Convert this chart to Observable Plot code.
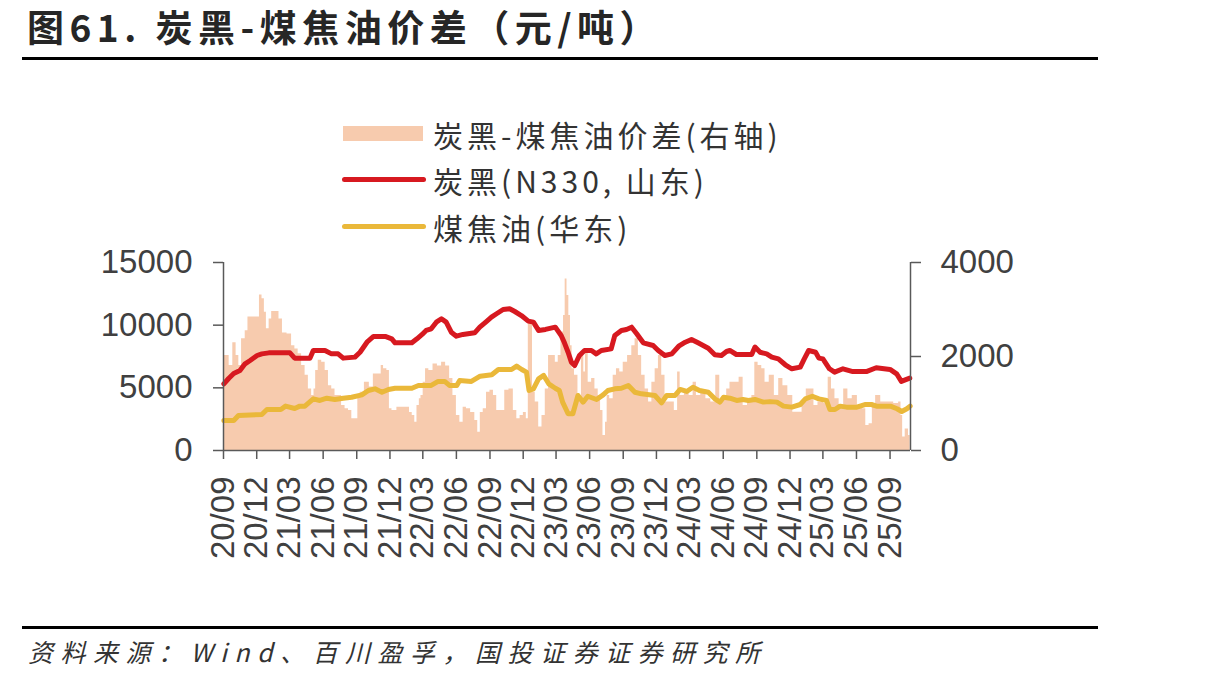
<!DOCTYPE html>
<html><head><meta charset="utf-8">
<script src="https://cdn.jsdelivr.net/npm/d3@7"></script>
<script src="https://cdn.jsdelivr.net/npm/@observablehq/plot@0.6"></script>
<style>
body{margin:0;background:#fff;width:1213px;height:681px;position:relative;overflow:hidden;font-family:"Noto Sans CJK SC",sans-serif;}
#title{position:absolute;left:27px;top:5px;font-size:37px;line-height:42px;font-weight:700;color:#262626;letter-spacing:5.5px;white-space:nowrap;}
.hr{position:absolute;left:22px;width:1076px;height:3px;background:#000;}
.lg{position:absolute;left:433px;font-size:30px;line-height:30px;color:#333;letter-spacing:4px;white-space:nowrap;}
.sw{position:absolute;}
#chart{position:absolute;left:0;top:240px;}
#source{position:absolute;left:28px;top:637px;font-size:25px;line-height:28px;font-style:italic;color:#333;letter-spacing:7.5px;white-space:nowrap;}
</style></head>
<body>
<div id="title">图61. 炭黑-煤焦油价差（元/吨）</div>
<div class="hr" style="top:57px"></div>
<div class="sw" style="left:343px;top:126px;width:80px;height:15px;background:#f7cbae"></div>
<div class="lg" style="top:119px">炭黑-煤焦油价差(右轴)</div>
<div class="sw" style="left:342px;top:177px;width:84px;height:5px;border-radius:3px;background:#d71920"></div>
<div class="lg" style="top:165px">炭黑(N330, 山东)</div>
<div class="sw" style="left:342px;top:224px;width:84px;height:5px;border-radius:3px;background:#eab83a"></div>
<div class="lg" style="top:212px">煤焦油(华东)</div>
<div id="chart"></div>
<div class="hr" style="top:626px"></div>
<div id="source">资料来源：Wind、百川盈孚，国投证券证券研究所</div>
<script>
// 炭黑(N330, 山东) 元/吨 — left axis
const cbDates = ["2020-09-02","2020-09-15","2020-09-29","2020-10-16","2020-10-30","2020-11-13","2020-12-02","2020-12-15","2021-01-03","2021-03-02","2021-03-15","2021-04-26","2021-05-05","2021-06-06","2021-06-24","2021-07-12","2021-07-26","2021-08-27","2021-09-10","2021-09-29","2021-10-17","2021-11-09","2021-11-18","2021-12-06","2021-12-15","2022-01-30","2022-02-13","2022-02-27","2022-03-10","2022-03-24","2022-04-07","2022-04-21","2022-05-04","2022-05-18","2022-06-01","2022-06-19","2022-07-21","2022-08-04","2022-08-22","2022-09-05","2022-09-19","2022-10-07","2022-10-25","2022-11-08","2022-11-26","2022-12-15","2022-12-29","2023-01-12","2023-01-31","2023-02-27","2023-03-15","2023-03-24","2023-04-03","2023-04-12","2023-04-21","2023-05-04","2023-05-18","2023-06-06","2023-06-19","2023-07-03","2023-07-30","2023-08-09","2023-08-27","2023-09-10","2023-09-24","2023-10-08","2023-10-26","2023-11-22","2023-12-06","2023-12-24","2024-01-12","2024-01-31","2024-02-18","2024-03-06","2024-03-24","2024-04-21","2024-05-09","2024-05-27","2024-06-10","2024-06-19","2024-07-07","2024-08-18","2024-08-27","2024-09-10","2024-09-28","2024-10-12","2024-10-30","2024-11-18","2024-12-06","2024-12-29","2025-01-09","2025-01-21","2025-02-09","2025-02-18","2025-03-01","2025-03-19","2025-04-02","2025-04-25","2025-05-22","2025-06-28","2025-07-25","2025-09-01","2025-09-19","2025-10-02","2025-10-16","2025-10-25"];
const cbValues = [5320,5745,6140,6380,6920,7180,7580,7710,7790,7790,7370,7370,7980,7980,7710,7710,7370,7450,7840,8640,9100,9100,9100,8910,8590,8590,8910,9260,9580,9710,10240,10510,10240,9440,9120,9260,9390,9840,10290,10640,10910,11250,11310,11090,10770,10320,10240,9580,9660,9840,9180,8590,7840,7050,6780,7580,7980,7980,7710,7980,8110,9180,9580,9660,9840,9310,8590,8380,7980,7580,7710,8320,8640,8860,8590,8160,7640,7580,7900,7980,7660,7660,8250,7840,7710,7450,7310,6840,6520,6650,7310,7980,7840,7370,7310,6520,6250,6520,6300,6300,6600,6470,6120,5510,5670,5770];

// 煤焦油(华东) 元/吨 — left axis
const ctDates = ["2020-09-02","2020-09-29","2020-10-12","2020-12-15","2020-12-29","2021-02-05","2021-02-18","2021-03-15","2021-03-29","2021-04-12","2021-05-05","2021-05-23","2021-06-11","2021-07-03","2021-07-26","2021-08-18","2021-09-15","2021-10-03","2021-10-21","2021-11-09","2021-11-27","2021-12-15","2022-01-30","2022-02-17","2022-03-24","2022-04-12","2022-04-30","2022-05-13","2022-06-02","2022-06-10","2022-07-12","2022-08-05","2022-09-06","2022-09-24","2022-10-30","2022-11-13","2022-11-27","2022-12-10","2022-12-17","2022-12-29","2023-01-12","2023-01-26","2023-02-09","2023-02-27","2023-03-10","2023-03-19","2023-04-03","2023-04-16","2023-04-30","2023-05-14","2023-05-27","2023-06-20","2023-07-08","2023-07-21","2023-08-09","2023-08-27","2023-09-15","2023-10-03","2023-10-21","2023-11-27","2023-12-15","2023-12-29","2024-01-21","2024-02-04","2024-02-22","2024-03-10","2024-03-28","2024-04-21","2024-05-09","2024-05-23","2024-06-02","2024-06-19","2024-07-08","2024-07-25","2024-08-09","2024-08-27","2024-09-19","2024-10-07","2024-10-26","2024-11-13","2024-12-06","2024-12-29","2025-01-12","2025-01-31","2025-02-18","2025-03-11","2025-03-20","2025-04-03","2025-04-17","2025-05-05","2025-06-02","2025-06-24","2025-07-12","2025-07-26","2025-09-02","2025-09-20","2025-10-03","2025-10-17","2025-10-26"];
const ctValues = [2390,2390,2790,2870,3270,3270,3540,3350,3540,3540,4120,3990,4170,4070,4170,4250,4440,4790,4920,4650,4870,4970,4970,5190,5190,5510,5510,5190,5190,5590,5510,5930,6040,6460,6460,6730,6460,6250,4790,4920,5720,5990,5320,4970,4790,3860,2930,2930,4390,3860,4330,4070,4440,4790,4920,4970,5190,4650,4520,4390,3800,4390,4390,4870,4710,5050,4790,4650,4120,3860,4250,4170,3990,4070,3990,4070,3860,3900,3860,3540,3460,3670,4120,4330,4120,3990,3270,3270,3540,3460,3460,3670,3670,3540,3540,3330,3110,3330,3540];

// 炭黑-煤焦油价差 元/吨 — right axis
const spDates = ["2020-09-02","2020-09-11","2020-09-22","2020-10-01","2020-10-10","2020-10-16","2020-10-25","2020-11-05","2020-11-09","2020-12-06","2020-12-11","2020-12-20","2020-12-24","2020-12-31","2021-01-08","2021-01-14","2021-01-26","2021-02-05","2021-02-14","2021-03-02","2021-03-11","2021-03-20","2021-03-29","2021-04-08","2021-04-17","2021-04-26","2021-05-05","2021-05-09","2021-05-14","2021-05-23","2021-06-02","2021-06-11","2021-06-20","2021-06-29","2021-07-08","2021-07-17","2021-07-26","2021-08-05","2021-08-14","2021-08-23","2021-09-02","2021-09-06","2021-09-15","2021-09-29","2021-10-12","2021-10-21","2021-11-05","2021-11-09","2021-11-18","2021-11-27","2021-12-02","2021-12-11","2021-12-29","2022-01-21","2022-01-26","2022-02-05","2022-02-09","2022-02-17","2022-02-22","2022-02-26","2022-03-06","2022-03-11","2022-03-24","2022-04-03","2022-04-17","2022-04-26","2022-05-09","2022-05-18","2022-05-27","2022-06-06","2022-06-15","2022-06-24","2022-07-03","2022-07-17","2022-07-26","2022-08-02","2022-08-09","2022-08-18","2022-08-27","2022-09-06","2022-09-15","2022-09-24","2022-10-07","2022-10-16","2022-10-30","2022-11-09","2022-11-18","2022-11-27","2022-12-06","2022-12-13","2022-12-17","2022-12-24","2022-12-29","2023-01-08","2023-01-17","2023-01-26","2023-02-04","2023-02-13","2023-02-22","2023-03-04","2023-03-10","2023-03-19","2023-03-24","2023-03-28","2023-04-03","2023-04-07","2023-04-12","2023-04-16","2023-04-25","2023-05-05","2023-05-14","2023-05-18","2023-05-23","2023-06-02","2023-06-11","2023-06-20","2023-06-29","2023-07-03","2023-07-12","2023-07-17","2023-07-21","2023-07-31","2023-08-09","2023-08-18","2023-08-27","2023-09-06","2023-09-20","2023-09-29","2023-10-08","2023-10-17","2023-10-26","2023-11-05","2023-11-14","2023-11-23","2023-12-02","2023-12-11","2023-12-20","2023-12-29","2024-01-12","2024-01-26","2024-01-30","2024-02-09","2024-02-22","2024-03-06","2024-03-15","2024-03-24","2024-04-08","2024-04-21","2024-05-05","2024-05-18","2024-05-27","2024-06-06","2024-06-15","2024-06-24","2024-07-08","2024-07-21","2024-07-30","2024-08-14","2024-08-23","2024-08-30","2024-09-10","2024-09-19","2024-09-28","2024-10-12","2024-10-26","2024-11-05","2024-11-18","2024-12-02","2024-12-15","2024-12-29","2025-01-08","2025-01-21","2025-01-31","2025-02-09","2025-02-22","2025-03-11","2025-03-20","2025-03-29","2025-04-08","2025-04-21","2025-05-03","2025-05-14","2025-05-27","2025-06-11","2025-06-24","2025-06-29","2025-07-12","2025-07-17","2025-07-30","2025-08-14","2025-09-02","2025-09-20","2025-09-29","2025-10-03","2025-10-08","2025-10-17","2025-10-26"];
const spValues = [2020,2020,1810,2290,2020,1810,2380,2550,2840,2840,3310,3230,2940,2590,2800,2960,2960,2800,2500,2480,2230,2160,2060,1810,1600,1310,1170,1310,1700,1920,1880,1700,1380,1310,1170,1170,960,890,850,675,675,1170,1240,1450,1350,1630,1630,1810,1740,1700,890,850,920,920,810,745,600,960,1100,1170,1450,1740,1700,1840,1800,1880,1800,1530,1170,745,600,920,890,810,640,390,810,890,1240,1280,1170,850,850,1280,1310,850,675,745,810,675,2700,2700,1240,1030,500,745,1310,2020,2020,1880,2020,2520,2870,3650,3300,2870,2230,1740,1600,1100,2020,1670,2160,1450,1530,1310,1170,850,320,600,1170,1100,1600,1740,1670,1880,2020,2230,2380,2020,1600,1310,1030,1450,1740,2020,1600,1030,1030,850,1670,1170,1240,1170,1450,1170,1240,1100,1030,1600,1030,1170,1310,1450,1450,1560,960,1030,1170,1880,1810,1740,1450,1600,1170,1530,1380,1170,815,815,1030,1310,1310,960,1030,1000,1560,1310,1100,960,1310,1100,1170,960,890,530,570,960,1170,1030,1030,1000,1030,745,285,460,320];

const xTickDates = ["2020-09-01","2020-12-01","2021-03-01","2021-06-01","2021-09-01","2021-12-01","2022-03-01","2022-06-01","2022-09-01","2022-12-01","2023-03-01","2023-06-01","2023-09-01","2023-12-01","2024-03-01","2024-06-01","2024-09-01","2024-12-01","2025-03-01","2025-06-01","2025-09-01"];
const leftTicks = [0, 5000, 10000, 15000];
const rightTicks = [0, 2000, 4000];

const parse = d3.utcParse("%Y-%m-%d");
const ratio = 15000 / 4000;
const cb = cbDates.map((d, i) => ({date: parse(d), v: cbValues[i]}));
const ct = ctDates.map((d, i) => ({date: parse(d), v: ctValues[i]}));
const sp = spDates.map((d, i) => ({date: parse(d), v: spValues[i] * ratio}));
const x0 = parse("2020-09-01"), x1 = parse("2025-10-27");
const axisColor = "#595959";
const font = "'Liberation Sans', Arial, sans-serif";

const chart = Plot.plot({
  width: 1213, height: 360,
  marginLeft: 223, marginRight: 303, marginTop: 22, marginBottom: 150,
  style: {fontFamily: font, fontSize: "33px", color: "#404040", background: "transparent", overflow: "visible"},
  x: {type: "utc", domain: [x0, x1]},
  y: {domain: [0, 15000]},
  marks: [
    Plot.areaY(sp, {x: "date", y: "v", fill: "#f7cbae", curve: "step"}),
    Plot.line(ct, {x: "date", y: "v", stroke: "#eab83a", strokeWidth: 5, strokeLinejoin: "round"}),
    Plot.line(cb, {x: "date", y: "v", stroke: "#d71920", strokeWidth: 5, strokeLinejoin: "round"}),
    Plot.ruleX([x0, x1], {stroke: axisColor, strokeWidth: 1.5}),
    Plot.ruleY([0], {stroke: axisColor, strokeWidth: 1.5}),
    Plot.axisY(leftTicks, {anchor: "left", tickSize: 10, tickPadding: 21, tickFormat: d => String(d), label: null, stroke: axisColor, strokeWidth: 1.5, fill: "#404040", fontSize: 33, fontFamily: font}),
    Plot.axisY(rightTicks.map(v => v * ratio), {anchor: "right", tickSize: 10, tickPadding: 20, tickFormat: d => String(Math.round(d / ratio)), label: null, stroke: axisColor, strokeWidth: 1.5, fill: "#404040", fontSize: 33, fontFamily: font}),
    Plot.axisX(xTickDates.map(parse), {anchor: "bottom", tickSize: 9, tickPadding: 17, tickRotate: -90, tickFormat: d3.utcFormat("%y/%m"), label: null, stroke: axisColor, strokeWidth: 1.5, fill: "#404040", fontSize: 33, fontFamily: font})
  ]
});
document.getElementById("chart").appendChild(chart);
</script>
</body></html>
